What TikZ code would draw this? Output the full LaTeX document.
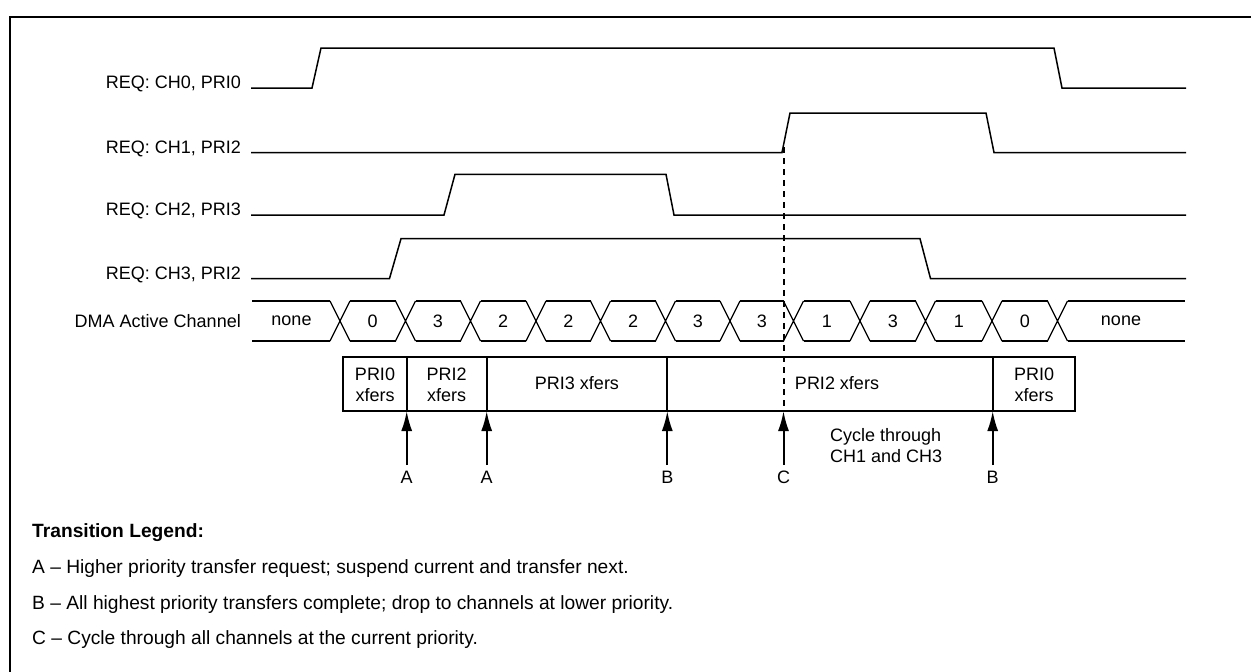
\documentclass[tikz,border=0pt]{standalone}
\usepackage{fontspec}
\setmainfont{Liberation Sans}
\usetikzlibrary{arrows.meta}
\begin{document}
\begin{tikzpicture}[x=1pt,y=-1pt,
  every node/.style={font=\fontsize{18}{21}\selectfont},
  frame/.style={line width=2.5pt},
  sig/.style={line width=1.5pt, line join=miter},
  bus/.style={line width=1.2pt},
  xbox/.style={line width=2pt},
  siglabel/.style={anchor=east, inner sep=0pt},
  txt/.style={inner sep=0pt, align=center},
  tlabel/.style={inner sep=0pt, outer sep=5.7pt},
  arr/.style={line width=2pt, -{Latex[length=20pt,width=11pt]}},
  dashline/.style={line width=2pt, dash pattern=on 6pt off 5pt},
  legend/.style={anchor=base west, inner sep=0pt, font=\fontsize{19.2}{22}\selectfont}]
\useasboundingbox (0,0) rectangle (1251,672);

% frame
\draw[frame] (10,672) -- (10,17) -- (1251,17);

% signal labels
\node[siglabel] (l0) at (241,84) {REQ: CH0, PRI0};
\node[siglabel] (l1) at (241,148.5) {REQ: CH1, PRI2};
\node[siglabel] (l2) at (241,211) {REQ: CH2, PRI3};
\node[siglabel] (l3) at (241,274.5) {REQ: CH3, PRI2};
\node[siglabel] (l4) at (241,321) {DMA Active Channel};

% request waveforms
\draw[sig] (251,88) -- (312,88) -- (321,48) -- (1054,48) -- (1062,88) -- (1186,88);
\draw[sig] (251,152.5) -- (782,152.5) -- (790,113) -- (986,113) -- (994,152.5) -- (1186,152.5);
\draw[sig] (251,215) -- (444,215) -- (455,174.3) -- (666,174.3) -- (674,215) -- (1186,215);
\draw[sig] (251,278.5) -- (389.5,278.5) -- (401,238.7) -- (920,238.7) -- (930.5,278.5) -- (1186,278.5);

% bus
\def\hh{10}
\draw[bus] (252,301) -- (330,301) (252,341) -- (330,341);
\foreach \c in {340,405.5,470.5,536,600.5,665.5,730,793.5,860,925.5,992,1057.5}
  \draw[bus] ({\c-\hh},301) -- ({\c+\hh},341) ({\c-\hh},341) -- ({\c+\hh},301);
\foreach \a/\b in {340/405.5,405.5/470.5,470.5/536,536/600.5,600.5/665.5,665.5/730,730/793.5,793.5/860,860/925.5,925.5/992,992/1057.5}
  \draw[bus] ({\a+\hh},301) -- ({\b-\hh},301) ({\a+\hh},341) -- ({\b-\hh},341);
\draw[bus] (1067.5,301) -- (1185,301) (1067.5,341) -- (1185,341);
\node[txt] (v0) at (291.5,321) {none};
\foreach \a/\b/\t [count=\i] in {340/405.5/0,405.5/470.5/3,470.5/536/2,536/600.5/2,600.5/665.5/2,665.5/730/3,730/793.5/3,793.5/860/1,860/925.5/3,925.5/992/1,992/1057.5/0}
  \node[txt] (v\i) at ({(\a+\b)/2},321) {\t};
\node[txt] (v12) at (1121,321) {none};

% transfer box
\draw[xbox] (343,357) rectangle (1075,411);
\draw[xbox] (406.7,357) -- (406.7,411) (486.7,357) -- (486.7,411)
  (667.3,357) -- (667.3,411) (992.7,357) -- (992.7,411);
\node[txt] (x0) at (375,385) {PRI0\\xfers};
\node[txt] (x1) at (446.7,385) {PRI2\\xfers};
\node[txt] (x2) at (577,383) {PRI3 xfers};
\node[txt] (x3) at (837,383) {PRI2 xfers};
\node[txt] (x4) at (1034,385) {PRI0\\xfers};

% dashed marker
\coordinate (dtop) at (783.5,147);
\coordinate (tC) at (783.5,411);
\draw[dashline] (dtop) -- (tC);

% transition arrows
\coordinate (tA1) at (406.7,411);
\coordinate (tA2) at (486.7,411);
\coordinate (tB1) at (667.3,411);
\coordinate (tB2) at (992.7,411);
\node[tlabel] (a1) at (406.7,477) {A};
\node[tlabel] (a2) at (486.7,477) {A};
\node[tlabel] (b1) at (667.3,477) {B};
\node[tlabel] (c1) at (783.5,477) {C};
\node[tlabel] (b2) at (992.7,477) {B};
\draw[arr] (a1.north) -- (tA1);
\draw[arr] (a2.north) -- (tA2);
\draw[arr] (b1.north) -- (tB1);
\draw[arr] (c1.north) -- (tC);
\draw[arr] (b2.north) -- (tB2);

\node[anchor=west, inner sep=0pt, align=left] (cyc) at (830,446) {Cycle through\\CH1 and CH3};

% legend
\node[legend] (lg) at (32,537) {\bfseries Transition Legend:};
\node[legend] (lgA) at (32,573) {A -- Higher priority transfer request; suspend current and transfer next.};
\node[legend] (lgB) at (32,609) {B -- All highest priority transfers complete; drop to channels at lower priority.};
\node[legend] (lgC) at (32,644) {C -- Cycle through all channels at the current priority.};
\end{tikzpicture}
\end{document}
